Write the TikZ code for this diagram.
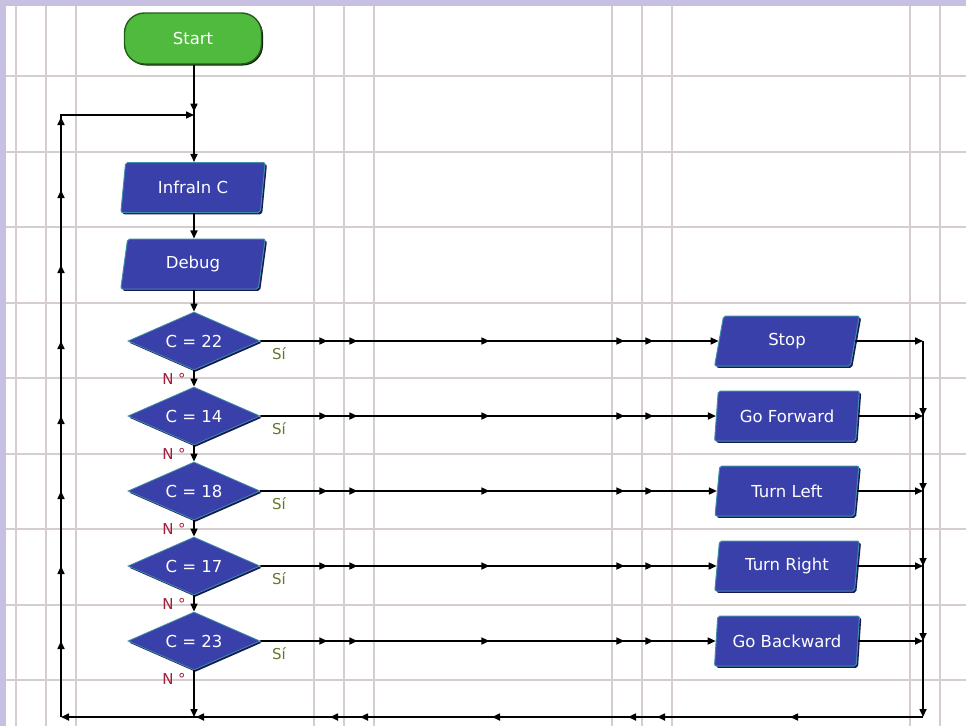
\documentclass[tikz,border=0pt]{standalone}
\usepackage{fontspec}
\setmainfont{DejaVu Sans}
\usetikzlibrary{arrows.meta,shapes.geometric,shadows,decorations.markings}

\definecolor{framec}{RGB}{200,192,225}
\definecolor{gridc}{RGB}{214,206,206}
\definecolor{boxblue}{RGB}{58,64,170}
\definecolor{boxedge}{RGB}{62,140,168}
\definecolor{boxshade}{RGB}{22,26,82}
\definecolor{startfill}{RGB}{80,186,62}
\definecolor{startedge}{RGB}{36,92,26}
\definecolor{yescol}{RGB}{98,122,40}
\definecolor{nocol}{RGB}{160,30,60}

\begin{document}
\begin{tikzpicture}[x=1pt,y=-1pt,
  >={Triangle[length=8pt,width=7pt]},
  font=\fontsize{16.5}{18}\selectfont,
  wire/.style={line width=1.6pt},
  terminal/.style={rectangle, rounded corners=20pt, minimum width=137pt,
    minimum height=51pt, fill=startfill, draw=startedge, line width=1.4pt,
    text=white, drop shadow={shadow xshift=1.5pt, shadow yshift=-1.5pt,
    fill=black!60!startedge, opacity=1}},
  io/.style={trapezium, trapezium left angle=82, trapezium right angle=98,
    trapezium stretches=true, minimum width=145pt, minimum height=50pt,
    fill=boxblue, draw=boxedge, line width=1pt, rounded corners=2pt,
    text=white, drop shadow={shadow xshift=1.8pt, shadow yshift=-1.8pt,
    fill=boxshade, opacity=1}},
  decision/.style={diamond, aspect=2.3, inner sep=0pt, minimum width=132pt,
    minimum height=58pt, fill=boxblue, draw=boxedge, line width=0.8pt,
    text=white, drop shadow={shadow xshift=1.5pt, shadow yshift=-1.8pt,
    fill=boxshade, opacity=1}},
  yeslabel/.style={text=yescol, font=\fontsize{15}{16}\selectfont, inner sep=0pt},
  nolabel/.style={text=nocol, font=\fontsize{15}{16}\selectfont, inner sep=0pt},
  rowmarks/.style={postaction={decorate, decoration={markings,
    mark=at position 67pt with {\arrow{>}},
    mark=at position 97pt with {\arrow{>}},
    mark=at position 229pt with {\arrow{>}},
    mark=at position 364pt with {\arrow{>}},
    mark=at position 393pt with {\arrow{>}}}}},
  downmarks/.style={postaction={decorate, decoration={markings,
    mark=at position 75pt with {\arrow{>}},
    mark=at position 150pt with {\arrow{>}},
    mark=at position 225pt with {\arrow{>}},
    mark=at position 300pt with {\arrow{>}}}}},
  bottommarks/.style={postaction={decorate, decoration={markings,
    mark=at position 133pt with {\arrow{>}},
    mark=at position 266pt with {\arrow{>}},
    mark=at position 295pt with {\arrow{>}},
    mark=at position 431pt with {\arrow{>}},
    mark=at position 563pt with {\arrow{>}},
    mark=at position 593pt with {\arrow{>}},
    mark=at position 727pt with {\arrow{>}}}}},
  leftmarks/.style={postaction={decorate, decoration={markings,
    mark=at position 76pt with {\arrow{>}},
    mark=at position 151pt with {\arrow{>}},
    mark=at position 226pt with {\arrow{>}},
    mark=at position 301pt with {\arrow{>}},
    mark=at position 376pt with {\arrow{>}},
    mark=at position 452pt with {\arrow{>}},
    mark=at position 527pt with {\arrow{>}},
    mark=at position 600pt with {\arrow{>}}}}},
  startmark/.style={postaction={decorate, decoration={markings,
    mark=at position 47pt with {\arrow{>}}}}}
]
\useasboundingbox (0,0) rectangle (966,726);
\fill[white] (0,0) rectangle (966,726);

% sheet grid
\foreach \gx in {16,46,76,314,344,374,612,642,672,910,940}
  \draw[gridc, line width=1.5pt] (\gx,6) -- (\gx,726);
\foreach \gy in {76,152,227,303,378,454,529,605,680}
  \draw[gridc, line width=1.5pt] (6,\gy) -- (966,\gy);

% window frame
\fill[framec] (0,0) rectangle (966,6);
\fill[framec] (0,0) rectangle (6,726);

% blocks
\node[terminal] (start) at (193,38.5) {Start};
\node[io] (infra) at (193,187.5) {InfraIn C};
\node[io] (debug) at (193,264) {Debug};

\foreach \i/\v/\act/\y in {1/22/Stop/341, 2/14/Go Forward/416,
    3/18/Turn Left/491, 4/17/Turn Right/566, 5/23/Go Backward/641} {
  \node[decision] (d\i) at (194,\y) {C = \v};
  \node[io] (a\i) at (787,\y) {\act};
  \node[yeslabel] (s\i) at (279,\y+13) {Sí};
  \node[nolabel] (n\i) at (174,\y+38) {N °};
  \coordinate (r\i) at (923,\y);
}

\coordinate (jn) at (194,115);
\coordinate (tl) at (61,115);
\coordinate (bl) at (61,717);
\coordinate (bj) at (194,717);
\coordinate (br) at (923,717);

% main column
\draw[wire,->,startmark] (start.south -| jn) -- (infra.north -| jn);
\draw[wire,->] (infra.south -| jn) -- (debug.north -| jn);
\draw[wire,->] (debug.south -| jn) -- (d1.north);
\foreach \i/\j in {1/2,2/3,3/4,4/5}
  \draw[wire,->] (d\i.south) -- (d\j.north);
\draw[wire,->] (d5.south) -- (bj);

% yes branches
\foreach \i in {1,...,5} {
  \draw[wire,->,rowmarks] (d\i.east) -- (a\i.west);
  \draw[wire,->] (a\i.east) -- (r\i);
}

% return loop
\draw[wire,->,downmarks] (r1) -- (br);
\draw[wire,->,bottommarks] (br) -- (bl);
\draw[wire,->,leftmarks] (bl) -- (tl) -- (jn);
\end{tikzpicture}
\end{document}
